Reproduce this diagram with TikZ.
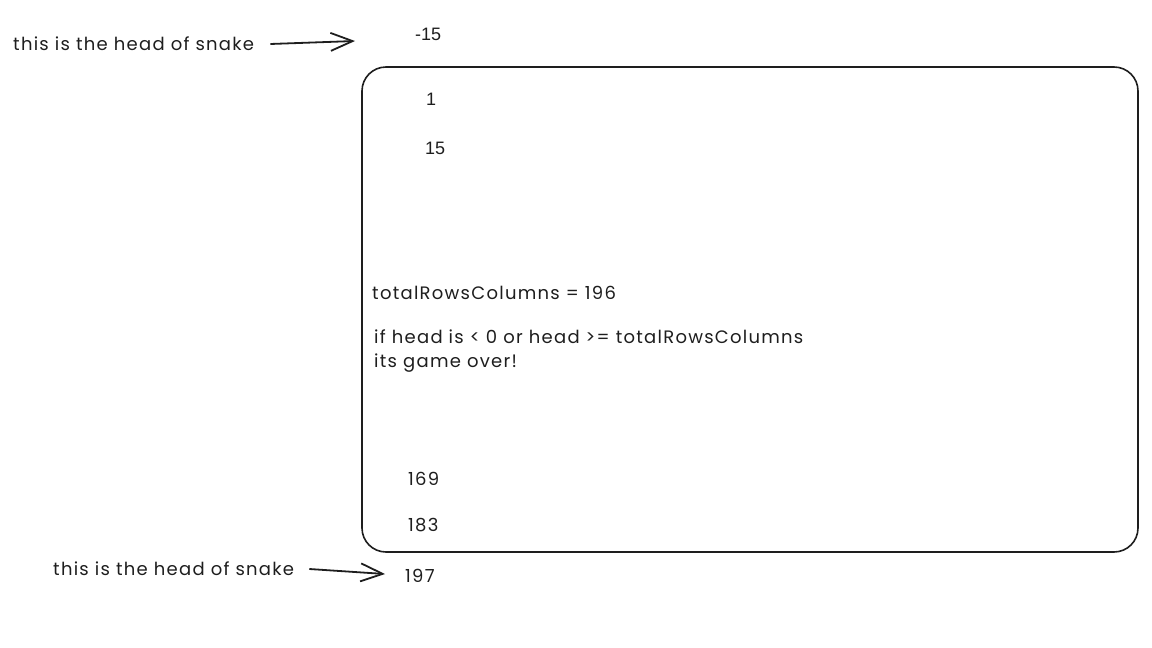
\documentclass[tikz,border=0pt]{standalone}
\usepackage{fontspec}
\setmainfont{Poppins}
\newfontfamily\handfont[LetterSpace=7]{Poppins}
\newfontfamily\numfont{Liberation Sans}
\usetikzlibrary{arrows.meta}
\definecolor{ink}{HTML}{1E1E1E}
\tikzset{
  gridbox/.style={draw=ink, line width=1.6pt, rounded corners=24pt, minimum width=776pt, minimum height=485pt, inner sep=0pt},
  arr/.style={draw=ink, line width=1.8pt, -{Straight Barb[length=22pt, width=18pt, line width=1.8pt]}},
  note/.style={text=ink, font=\handfont\fontsize{18}{24}\selectfont, anchor=west, inner sep=0pt},
  num/.style={text=ink, font=\numfont\fontsize{18}{21}\selectfont, anchor=west, inner sep=0pt},
  hnum/.style={text=ink, font=\handfont\fontsize{18}{24}\selectfont, anchor=west, inner sep=0pt}
}
\begin{document}
\begin{tikzpicture}[x=1pt, y=-1pt]
  \useasboundingbox (0,0) rectangle (1152,648);

  \node[gridbox] (grid) at (750,309.5) {};

  % head above the grid
  \node[note] (headtop) at (13,44) {this is the head of snake};
  \node[num] (m15) at (415,34) {-15};
  \coordinate (tiptop) at (355,41);
  \draw[arr] ([xshift=16pt]headtop.east) -- (tiptop);

  % cells
  \node[num] (c1) at (426,99) {1};
  \node[num] (c15) at (425,148) {15};
  \node[note] (total) at (372,293) {totalRowsColumns = 196};
  \node[note, align=left, anchor=north west] (rule) at (374,330) {if head is < 0 or head >= totalRowsColumns\\its game over!};
  \node[hnum] (c169) at (408,479) {169};
  \node[hnum] (c183) at (408,525) {183};

  % head below the grid
  \node[note] (headbot) at (53,569) {this is the head of snake};
  \node[hnum] (c197) at (405,576) {197};
  \coordinate (tipbot) at (385,574);
  \draw[arr] ([xshift=15pt]headbot.east) -- (tipbot);
\end{tikzpicture}
\end{document}
